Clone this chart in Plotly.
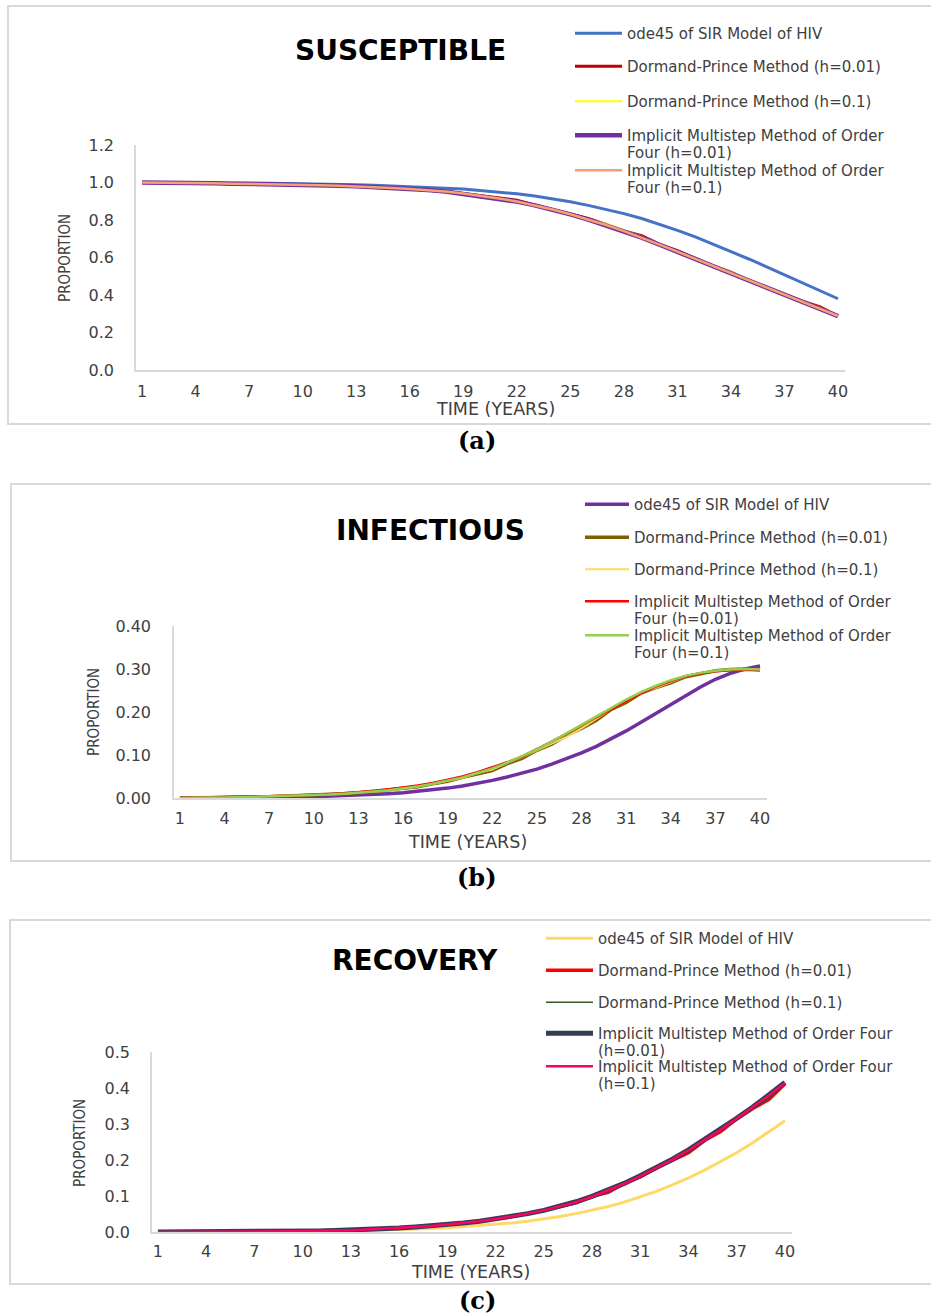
import plotly.graph_objects as go

W, H = 931, 1314

years = list(range(1, 41))
tick_years = list(range(1, 41, 3))

# ---------------- Panel (a) SUSCEPTIBLE ----------------
a_ode45 = [1.000, 1.000, 1.000, 1.000, 0.999, 0.998, 0.997, 0.996, 0.995, 0.994,
           0.992, 0.990, 0.988, 0.985, 0.982, 0.978, 0.974, 0.970, 0.965, 0.958,
           0.950, 0.940, 0.928, 0.914, 0.897, 0.878, 0.857, 0.834, 0.808, 0.778,
           0.745, 0.710, 0.672, 0.632, 0.592, 0.550, 0.508, 0.466, 0.424, 0.380]
a_dp001 = [1.000, 1.000, 1.000, 1.000, 0.996, 0.994, 0.993, 0.992, 0.990, 0.988,
           0.986, 0.983, 0.980, 0.976, 0.971, 0.966, 0.960, 0.952, 0.941, 0.930,
           0.916, 0.906, 0.880, 0.857, 0.832, 0.808, 0.776, 0.742, 0.716, 0.670,
           0.637, 0.594, 0.555, 0.522, 0.477, 0.440, 0.402, 0.367, 0.336, 0.286]
a_dp01 = [1.000, 1.000, 1.000, 1.000, 0.996, 0.994, 0.993, 0.992, 0.990, 0.988,
          0.986, 0.983, 0.980, 0.976, 0.971, 0.966, 0.960, 0.953, 0.942, 0.930,
          0.915, 0.900, 0.878, 0.857, 0.830, 0.804, 0.780, 0.745, 0.712, 0.670,
          0.632, 0.594, 0.556, 0.525, 0.478, 0.440, 0.400, 0.365, 0.332, 0.286]
a_imm001 = [1.000, 1.000, 1.000, 1.000, 0.996, 0.994, 0.993, 0.992, 0.990, 0.988,
            0.986, 0.983, 0.980, 0.976, 0.971, 0.966, 0.960, 0.952, 0.940, 0.928,
            0.914, 0.898, 0.878, 0.855, 0.830, 0.802, 0.772, 0.740, 0.706, 0.668,
            0.630, 0.592, 0.553, 0.514, 0.475, 0.437, 0.400, 0.364, 0.327, 0.287]
a_imm01 = [1.000, 1.000, 1.000, 1.000, 0.996, 0.994, 0.993, 0.992, 0.990, 0.988,
           0.986, 0.983, 0.980, 0.976, 0.971, 0.966, 0.960, 0.952, 0.941, 0.929,
           0.915, 0.899, 0.879, 0.856, 0.831, 0.803, 0.773, 0.741, 0.707, 0.669,
           0.631, 0.593, 0.554, 0.515, 0.476, 0.438, 0.401, 0.365, 0.328, 0.288]

# ---------------- Panel (b) INFECTIOUS ----------------
b_ode45 = [0.000, 0.000, 0.000, 0.000, 0.001, 0.001, 0.001, 0.002, 0.002, 0.003,
           0.004, 0.005, 0.006, 0.008, 0.010, 0.012, 0.015, 0.019, 0.023, 0.028,
           0.034, 0.041, 0.049, 0.057, 0.067, 0.079, 0.091, 0.105, 0.120, 0.137,
           0.156, 0.176, 0.197, 0.218, 0.239, 0.258, 0.276, 0.290, 0.300, 0.307]
b_dp001 = [0.000, 0.001, 0.001, 0.001, 0.002, 0.002, 0.003, 0.004, 0.005, 0.006,
           0.008, 0.010, 0.012, 0.015, 0.018, 0.022, 0.026, 0.033, 0.039, 0.048,
           0.057, 0.064, 0.080, 0.092, 0.111, 0.125, 0.146, 0.162, 0.181, 0.206,
           0.222, 0.244, 0.257, 0.268, 0.282, 0.290, 0.296, 0.299, 0.300, 0.298]
b_dp01 = [0.000, 0.001, 0.001, 0.001, 0.002, 0.002, 0.003, 0.004, 0.005, 0.006,
          0.008, 0.010, 0.012, 0.015, 0.018, 0.022, 0.027, 0.033, 0.040, 0.047,
          0.058, 0.066, 0.082, 0.095, 0.111, 0.127, 0.142, 0.162, 0.185, 0.207,
          0.226, 0.245, 0.256, 0.270, 0.283, 0.291, 0.296, 0.299, 0.300, 0.298]
b_imm001 = [0.000, 0.001, 0.001, 0.002, 0.003, 0.004, 0.004, 0.005, 0.006, 0.007,
            0.009, 0.011, 0.013, 0.016, 0.020, 0.024, 0.029, 0.035, 0.042, 0.050,
            0.060, 0.071, 0.083, 0.096, 0.113, 0.131, 0.150, 0.169, 0.189, 0.208,
            0.226, 0.244, 0.259, 0.272, 0.283, 0.290, 0.295, 0.297, 0.298, 0.297]
b_imm01 = [0.000, 0.001, 0.001, 0.001, 0.002, 0.002, 0.003, 0.004, 0.005, 0.006,
           0.008, 0.010, 0.012, 0.015, 0.018, 0.022, 0.027, 0.033, 0.040, 0.048,
           0.058, 0.069, 0.082, 0.097, 0.113, 0.131, 0.150, 0.170, 0.190, 0.210,
           0.229, 0.246, 0.261, 0.274, 0.284, 0.291, 0.296, 0.299, 0.300, 0.299]

# ---------------- Panel (c) RECOVERY ----------------
c_ode45 = [0.000, 0.000, 0.000, 0.000, 0.000, 0.001, 0.001, 0.001, 0.001, 0.001,
           0.002, 0.002, 0.003, 0.004, 0.005, 0.006, 0.008, 0.010, 0.012, 0.015,
           0.018, 0.021, 0.025, 0.030, 0.036, 0.043, 0.051, 0.060, 0.071, 0.083,
           0.097, 0.113, 0.131, 0.150, 0.172, 0.195, 0.220, 0.248, 0.278, 0.309]
c_dp001 = [0.000, 0.000, 0.000, 0.000, 0.001, 0.001, 0.001, 0.002, 0.002, 0.003,
           0.003, 0.004, 0.005, 0.007, 0.009, 0.011, 0.014, 0.017, 0.021, 0.025,
           0.030, 0.036, 0.043, 0.051, 0.060, 0.071, 0.081, 0.099, 0.110, 0.135,
           0.153, 0.178, 0.200, 0.220, 0.254, 0.279, 0.314, 0.343, 0.368, 0.412]
c_dp01 = [0.000, 0.000, 0.000, 0.000, 0.001, 0.001, 0.001, 0.002, 0.002, 0.003,
          0.003, 0.004, 0.005, 0.007, 0.009, 0.011, 0.014, 0.017, 0.021, 0.025,
          0.030, 0.036, 0.043, 0.051, 0.060, 0.071, 0.082, 0.099, 0.112, 0.135,
          0.154, 0.178, 0.201, 0.222, 0.255, 0.281, 0.315, 0.344, 0.370, 0.413]
c_imm001 = [0.000, 0.000, 0.000, 0.000, 0.001, 0.001, 0.001, 0.002, 0.002, 0.003,
            0.003, 0.004, 0.005, 0.007, 0.009, 0.011, 0.014, 0.017, 0.021, 0.025,
            0.030, 0.036, 0.043, 0.051, 0.060, 0.071, 0.084, 0.099, 0.116, 0.135,
            0.156, 0.178, 0.202, 0.228, 0.256, 0.285, 0.316, 0.347, 0.380, 0.415]
c_imm01 = [0.000, 0.000, 0.000, 0.000, 0.001, 0.001, 0.001, 0.002, 0.002, 0.003,
           0.003, 0.004, 0.005, 0.007, 0.009, 0.011, 0.014, 0.017, 0.021, 0.025,
           0.030, 0.036, 0.043, 0.051, 0.060, 0.071, 0.083, 0.098, 0.115, 0.134,
           0.155, 0.177, 0.201, 0.227, 0.255, 0.284, 0.315, 0.346, 0.379, 0.414]

lines_ab = [["ode45 of SIR Model of HIV"],
            ["Dormand-Prince Method (h=0.01)"],
            ["Dormand-Prince Method (h=0.1)"],
            ["Implicit Multistep Method of Order", "Four (h=0.01)"],
            ["Implicit Multistep Method of Order", "Four (h=0.1)"]]
lines_c = [["ode45 of SIR Model of HIV"],
           ["Dormand-Prince Method (h=0.01)"],
           ["Dormand-Prince Method (h=0.1)"],
           ["Implicit Multistep Method of Order Four", "(h=0.01)"],
           ["Implicit Multistep Method of Order Four", "(h=0.1)"]]

LEG_GLYPH = 15


def legend_name(lines):
    return "<br>".join('<span style="font-size:%.1fpx">%s</span>' % (LEG_GLYPH, t) for t in lines)


TICK_FONT = dict(family="DejaVu Sans, Verdana, sans-serif", size=16, color="#404040")
LEG_FONT = dict(family="DejaVu Sans, Verdana, sans-serif", size=13.5, color="#404040")
YT_FONT = dict(family="DejaVu Sans Condensed, Liberation Sans Narrow, sans-serif", size=15, color="#404040")
XT_FONT = dict(family="DejaVu Sans, sans-serif", size=17.5, color="#404040")
TITLE_FONT = dict(family="DejaVu Sans, sans-serif", size=28, color="#000000", weight="bold")
CAP_FONT = dict(family="DejaVu Serif, Liberation Serif, serif", size=24, color="#000000", weight="bold")
GRID = "#D9D9D9"


def fx(p):
    return p / W


def fy(p):
    return 1 - p / H


panels = [
    dict(series=[a_ode45, a_dp001, a_dp01, a_imm001, a_imm01],
         colors=["#4472C4", "#C00000", "#FFFF00", "#7030A0", "#F8A070"],
         widths=[3, 3, 2, 4.5, 2.5], lines=lines_ab,
         xdom=(136, 845), ydom=(145, 370), xr=[0.66, 40.39], yr=[0, 1.2], dtick=0.2,
         fmt=".1f", title="SUSCEPTIBLE", tpos=(400, 50), ylab=(65, 258), xlab=(495, 409),
         leg_x=575, itemw=47, leg_y=[33, 66, 101, 135, 170], box=(8, 6, 940, 424),
         cap="(a)", cap_y=440, xsoff=6, ysoff=17),
    dict(series=[b_ode45, b_dp001, b_dp01, b_imm001, b_imm01],
         colors=["#7030A0", "#7F6000", "#FFD966", "#FF0000", "#92D050"],
         widths=[3.5, 3.5, 2, 2.5, 2.5], lines=lines_ab,
         xdom=(174, 767), ydom=(626, 798), xr=[0.6, 40.47], yr=[0, 0.4], dtick=0.1,
         fmt=".2f", title="INFECTIOUS", tpos=(430, 530), ylab=(94, 712), xlab=(468, 842),
         leg_x=585, itemw=44, leg_y=[504, 537, 569, 601, 635], box=(11, 484, 940, 861),
         cap="(b)", cap_y=877, xsoff=5, ysoff=18),
    dict(series=[c_ode45, c_dp001, c_dp01, c_imm001, c_imm01],
         colors=["#FFD966", "#FF0000", "#375623", "#333F50", "#FF0066"],
         widths=[3, 3.5, 1.5, 5, 2.5], lines=lines_c,
         xdom=(152, 792), ydom=(1052, 1232), xr=[0.63, 40.44], yr=[0, 0.5], dtick=0.1,
         fmt=".1f", title="RECOVERY", tpos=(415, 960), ylab=(80, 1143), xlab=(470, 1272),
         leg_x=546, itemw=47, leg_y=[938, 970, 1002, 1033, 1066], box=(10, 920, 940, 1284),
         cap="(c)", cap_y=1300, xsoff=4, ysoff=17),
]

fig = go.Figure()
layout = {}
annotations = []
shapes = []
leg_idx = 0

for i, p in enumerate(panels):
    sfx = "" if i == 0 else str(i + 1)
    xa, ya = "x" + sfx, "y" + sfx
    for k in range(5):
        leg_idx += 1
        lname = "legend" if leg_idx == 1 else "legend%d" % leg_idx
        fig.add_trace(go.Scatter(
            x=years, y=p["series"][k], mode="lines", name=legend_name(p["lines"][k]),
            line=dict(color=p["colors"][k], width=p["widths"][k]),
            xaxis=xa, yaxis=ya, legend=lname, showlegend=True,
            hoverinfo="skip"))
        layout[lname] = dict(
            x=fx(p["leg_x"] - 5), xanchor="left",
            y=fy(p["leg_y"][k] - 15), yanchor="top",
            bgcolor="rgba(0,0,0,0)", borderwidth=0, font=LEG_FONT,
            itemwidth=p["itemw"], valign="top", traceorder="normal")
    layout["xaxis" + sfx] = dict(
        domain=[fx(p["xdom"][0]), fx(p["xdom"][1])], anchor=ya, range=p["xr"],
        tickmode="array", tickvals=tick_years, ticktext=[str(t) for t in tick_years],
        showgrid=False, zeroline=False, showline=True, linecolor=GRID, linewidth=1.5,
        ticks="", tickfont=TICK_FONT, ticklabelstandoff=p["xsoff"], fixedrange=True,
        automargin=False)
    layout["yaxis" + sfx] = dict(
        domain=[fy(p["ydom"][1]), fy(p["ydom"][0])], anchor=xa, range=p["yr"],
        dtick=p["dtick"], tick0=0, tickformat=p["fmt"],
        showgrid=False, zeroline=False, showline=True, linecolor=GRID, linewidth=1.5,
        ticks="", tickfont=TICK_FONT, ticklabelstandoff=p["ysoff"], fixedrange=True,
        automargin=False)
    annotations.append(dict(text=p["title"], x=fx(p["tpos"][0]), y=fy(p["tpos"][1]),
                            xref="paper", yref="paper", showarrow=False,
                            xanchor="center", yanchor="middle", font=TITLE_FONT))
    annotations.append(dict(text="PROPORTION", x=fx(p["ylab"][0]), y=fy(p["ylab"][1]),
                            xref="paper", yref="paper", showarrow=False, textangle=-90,
                            xanchor="center", yanchor="middle", font=YT_FONT))
    annotations.append(dict(text="TIME (YEARS)", x=fx(p["xlab"][0]), y=fy(p["xlab"][1]),
                            xref="paper", yref="paper", showarrow=False,
                            xanchor="center", yanchor="middle", font=XT_FONT))
    annotations.append(dict(text=p["cap"], x=fx(477), y=fy(p["cap_y"]),
                            xref="paper", yref="paper", showarrow=False,
                            xanchor="center", yanchor="middle", font=CAP_FONT))
    bx0, by0, bx1, by1 = p["box"]
    shapes.append(dict(type="rect", xref="paper", yref="paper",
                       x0=fx(bx0), x1=fx(bx1), y0=fy(by1), y1=fy(by0),
                       line=dict(color=GRID, width=2), fillcolor="rgba(0,0,0,0)", layer="below"))

fig.update_layout(
    width=W, height=H, margin=dict(l=0, r=0, t=0, b=0, autoexpand=False),
    paper_bgcolor="white", plot_bgcolor="white",
    annotations=annotations, shapes=shapes, hovermode=False,
    **layout)

fig.write_html("out.html", config={"displayModeBar": False},
               post_script="document.body.style.margin='0';document.body.style.overflow='hidden';")
